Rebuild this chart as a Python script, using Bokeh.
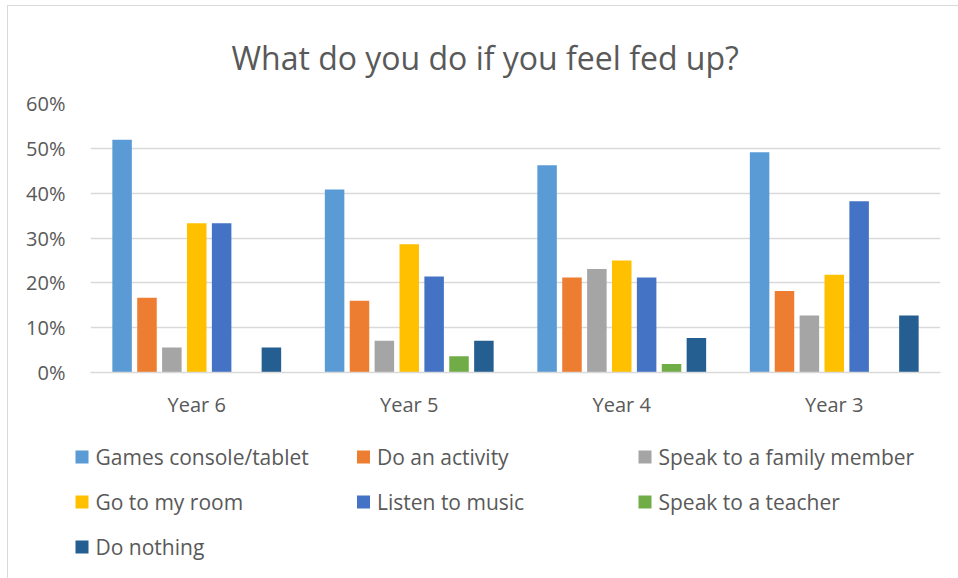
from bokeh.plotting import figure
from bokeh.models import (FactorRange, Range1d, FixedTicker, NumeralTickFormatter,
                          ColumnDataSource, Title)
from bokeh.layouts import column
from bokeh.transform import dodge
from bokeh.core.properties import value
from bokeh.embed import file_html
from bokeh.resources import INLINE

# ---------------- data ----------------
years = ["Year 6", "Year 5", "Year 4", "Year 3"]
series_names = ["Games console/tablet", "Do an activity", "Speak to a family member",
                "Go to my room", "Listen to music", "Speak to a teacher", "Do nothing"]
games = [0.519, 0.408, 0.462, 0.491]
activity = [0.167, 0.160, 0.212, 0.182]
family = [0.056, 0.071, 0.231, 0.127]
room = [0.333, 0.286, 0.250, 0.218]
music = [0.333, 0.214, 0.212, 0.382]
teacher = [0.0, 0.036, 0.019, 0.0]
nothing = [0.056, 0.071, 0.077, 0.127]
y_ticks = [0.0, 0.1, 0.2, 0.3, 0.4, 0.5, 0.6]
title_text = "What do you do if you feel fed up?"

# ---------------- style ----------------
colors = ["#5B9BD5", "#ED7D31", "#A5A5A5", "#FFC000", "#4472C4", "#70AD47", "#255E91"]
FONT = "Open Sans"
TXT = "#595959"
GRID = "#D9D9D9"

PAGE_W, PAGE_H = 958, 578
OX, OY = 8, 6                 # where the content starts inside the chart border
FRAME_L, FRAME_R = 90, 940    # page px
FRAME_T, FRAME_B = 103, 372   # page px
SPLIT = 430                   # page y where the legend area starts
YMAX = 0.6

values = [games, activity, family, room, music, teacher, nothing]
data = {"year": years}
keys = []
for i, v in enumerate(values):
    k = "s%d" % i
    keys.append(k)
    data[k] = v
source = ColumnDataSource(data)

main_w = PAGE_W - OX
main_h = SPLIT - OY
p = figure(width=main_w, height=main_h,
           x_range=FactorRange(*years, range_padding=0),
           y_range=Range1d(0, YMAX),
           output_backend="svg", toolbar_location=None,
           min_border_left=FRAME_L - OX, min_border_right=PAGE_W - FRAME_R,
           min_border_top=FRAME_T - OY, min_border_bottom=main_h - (FRAME_B - OY))
p.frame_align = False

p.title = Title(text=title_text, align="left", offset=141, standoff=50,
                text_font=FONT, text_font_size="32px", text_font_style="normal",
                text_color=TXT)

pitch = 0.1171
bar_w = 0.0918
for i, k in enumerate(keys):
    p.vbar(x=dodge("year", (i - 3) * pitch, range=p.x_range), top=k, width=bar_w,
           source=source, fill_color=colors[i], line_color=None)

p.outline_line_color = None
p.xgrid.grid_line_color = None
p.ygrid.grid_line_color = GRID
p.ygrid.grid_line_width = 1.3
p.ygrid.ticker = FixedTicker(ticks=y_ticks)

p.yaxis.ticker = FixedTicker(ticks=y_ticks)
p.yaxis.formatter = NumeralTickFormatter(format="0%")
p.yaxis.axis_line_color = None
p.yaxis.major_tick_line_color = None
p.yaxis.minor_tick_line_color = None
p.yaxis.major_label_standoff = 19
p.yaxis.major_label_text_font = FONT
p.yaxis.major_label_text_font_size = "20px"
p.yaxis.major_label_text_color = TXT

p.xaxis.axis_line_color = GRID
p.xaxis.axis_line_width = 1.3
p.xaxis.major_tick_line_color = None
p.xaxis.minor_tick_line_color = None
p.xaxis.major_label_standoff = 12
p.xaxis.major_label_text_font = FONT
p.xaxis.major_label_text_font_size = "20px"
p.xaxis.major_label_text_color = TXT

# ---------------- legend (own small canvas, page-pixel coordinates) ----------------
leg_h = PAGE_H - SPLIT
lg = figure(width=main_w, height=leg_h,
            x_range=Range1d(OX, PAGE_W), y_range=Range1d(PAGE_H, SPLIT),
            output_backend="svg", toolbar_location=None,
            x_axis_location=None, y_axis_location=None,
            min_border=0, min_border_left=0, min_border_right=0,
            min_border_top=0, min_border_bottom=0)
lg.frame_align = False
lg.outline_line_color = None
lg.grid.visible = False

leg_x0, leg_dx = 75, 281.5
leg_y0, leg_dy = 456.5, 45
sq = 13
cols = [i % 3 for i in range(len(series_names))]
rows = [i // 3 for i in range(len(series_names))]
lsrc = ColumnDataSource(dict(
    name=series_names,
    color=colors,
    x=[leg_x0 + c * leg_dx + sq / 2 for c in cols],
    y=[leg_y0 + r * leg_dy for r in rows],
    tx=[leg_x0 + c * leg_dx + sq + 7 for c in cols],
    ty=[leg_y0 + r * leg_dy for r in rows],
))
lg.rect(x="x", y="y", width=sq, height=sq, source=lsrc, fill_color="color",
        line_color=None)
lg.text(x="tx", y="ty", text="name", source=lsrc, text_font=value(FONT),
        text_font_size="21px", text_color=TXT, text_baseline="middle",
        text_align="left")

layout = column(p, lg, spacing=0, margin=(OY - 1, 0, 0, OX - 1),
                styles={"border-top": "1px solid #D9D9D9",
                        "border-left": "1px solid #D9D9D9"})

open("out.html", "w").write(file_html(layout, INLINE))
